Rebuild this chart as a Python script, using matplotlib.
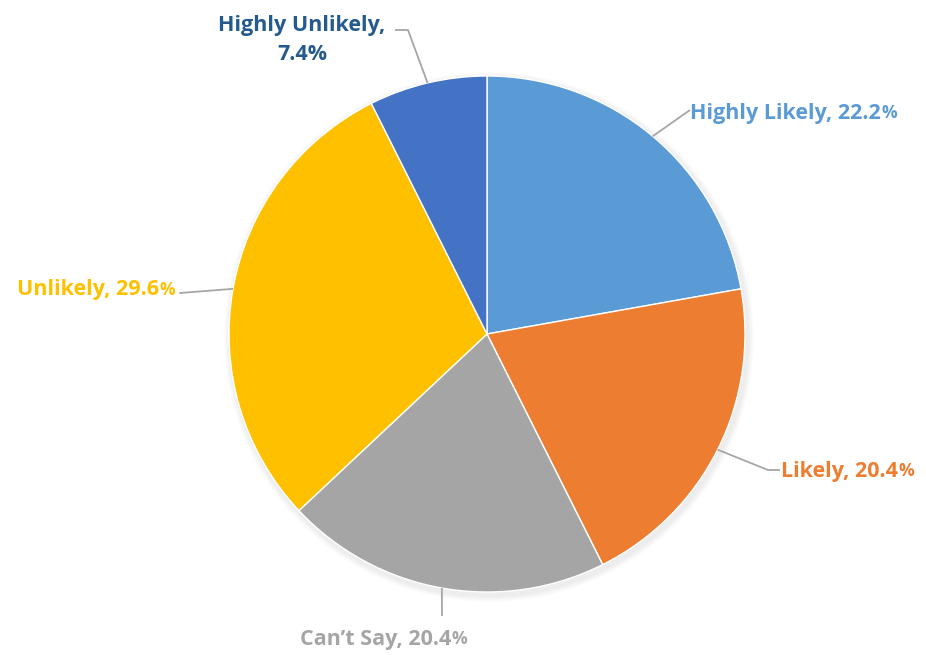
import numpy as np
import matplotlib.pyplot as plt

# -- data --
labels = ["Highly Likely", "Likely", "Can\u2019t Say", "Unlikely", "Highly Unlikely"]
values = [22.2, 20.4, 20.4, 29.6, 7.4]
colors = ["#5B9BD5", "#ED7D31", "#A5A5A5", "#FFC000", "#4472C4"]
label_colors = ["#5B9BD5", "#ED7D31", "#A5A5A5", "#FFC000", "#245A8D"]

W, H = 926, 655
cx, cy, r = 487, H - 334, 258

fig = plt.figure(figsize=(W / 100, H / 100), dpi=100)
ax = fig.add_axes([0, 0, 1, 1])

# faint shadow
for k in range(6):
    ax.add_patch(plt.Circle((cx + 2, cy - 3), r + 2 + k, color="k", alpha=0.01, lw=0))

wedges, _ = ax.pie(values, colors=colors, startangle=90, counterclock=False,
                   center=(cx, cy), radius=r, frame=True,
                   wedgeprops=dict(edgecolor="white", linewidth=1))
ax.set_xlim(0, W)
ax.set_ylim(0, H)
ax.set_aspect("equal")
ax.axis("off")

FAM = ["Open Sans", "DejaVu Sans"]
font = dict(family=FAM, weight="bold", fontsize=15.5)
line_kw = dict(color="#A6A6A6", lw=1.3, solid_capstyle="butt")

# leader line elbows (pixel coords, y down) and label anchors
elbows = [(690, 110), (768, 470), (442, 616), (180, 293), (408, 30)]
anchors = [(690, 113, "left"), (781, 471, "left"),
           (385, 639, "center"), (178, 290, "right")]
ends = [(690, 110), (780, 470), (442, 616), (182, 293), (395, 30)]


def add_label(x, y, ha, main, color):
    # main text + smaller percent sign
    tmp = ax.text(x, y, main + "%", ha=ha, va="center", color=color, **font)
    fig.canvas.draw()
    bb = tmp.get_window_extent()
    tmp.remove()
    x0 = ax.transData.inverted().transform((bb.x0, 0))[0]
    t = ax.text(x0, y, main, ha="left", va="center", color=color, **font)
    ax.annotate("%", xy=(1, 0), xycoords=t, ha="left", va="bottom",
                color=color, family=FAM, weight="bold",
                fontsize=12.5, xytext=(0.5, 0.8), textcoords="offset points")


for i, w in enumerate(wedges):
    ang = np.deg2rad((w.theta1 + w.theta2) / 2)
    ex, ey = cx + r * np.cos(ang), cy + r * np.sin(ang)
    bx, by = elbows[i]
    dx, dy = ends[i]
    ax.plot([ex, bx, dx], [ey, H - by, H - dy], **line_kw)

    pct = f"{values[i]:.1f}"
    if labels[i] == "Highly Unlikely":
        ax.text(302, H - 25, "Highly Unlikely,", ha="center", va="center",
                color=label_colors[i], **font)
        ax.text(302, H - 55, pct + "%", ha="center", va="center",
                color=label_colors[i], **font)
    else:
        x, y, ha = anchors[i]
        add_label(x, H - y, ha, labels[i] + ", " + pct, label_colors[i])

fig.savefig("out.png", dpi=100)
